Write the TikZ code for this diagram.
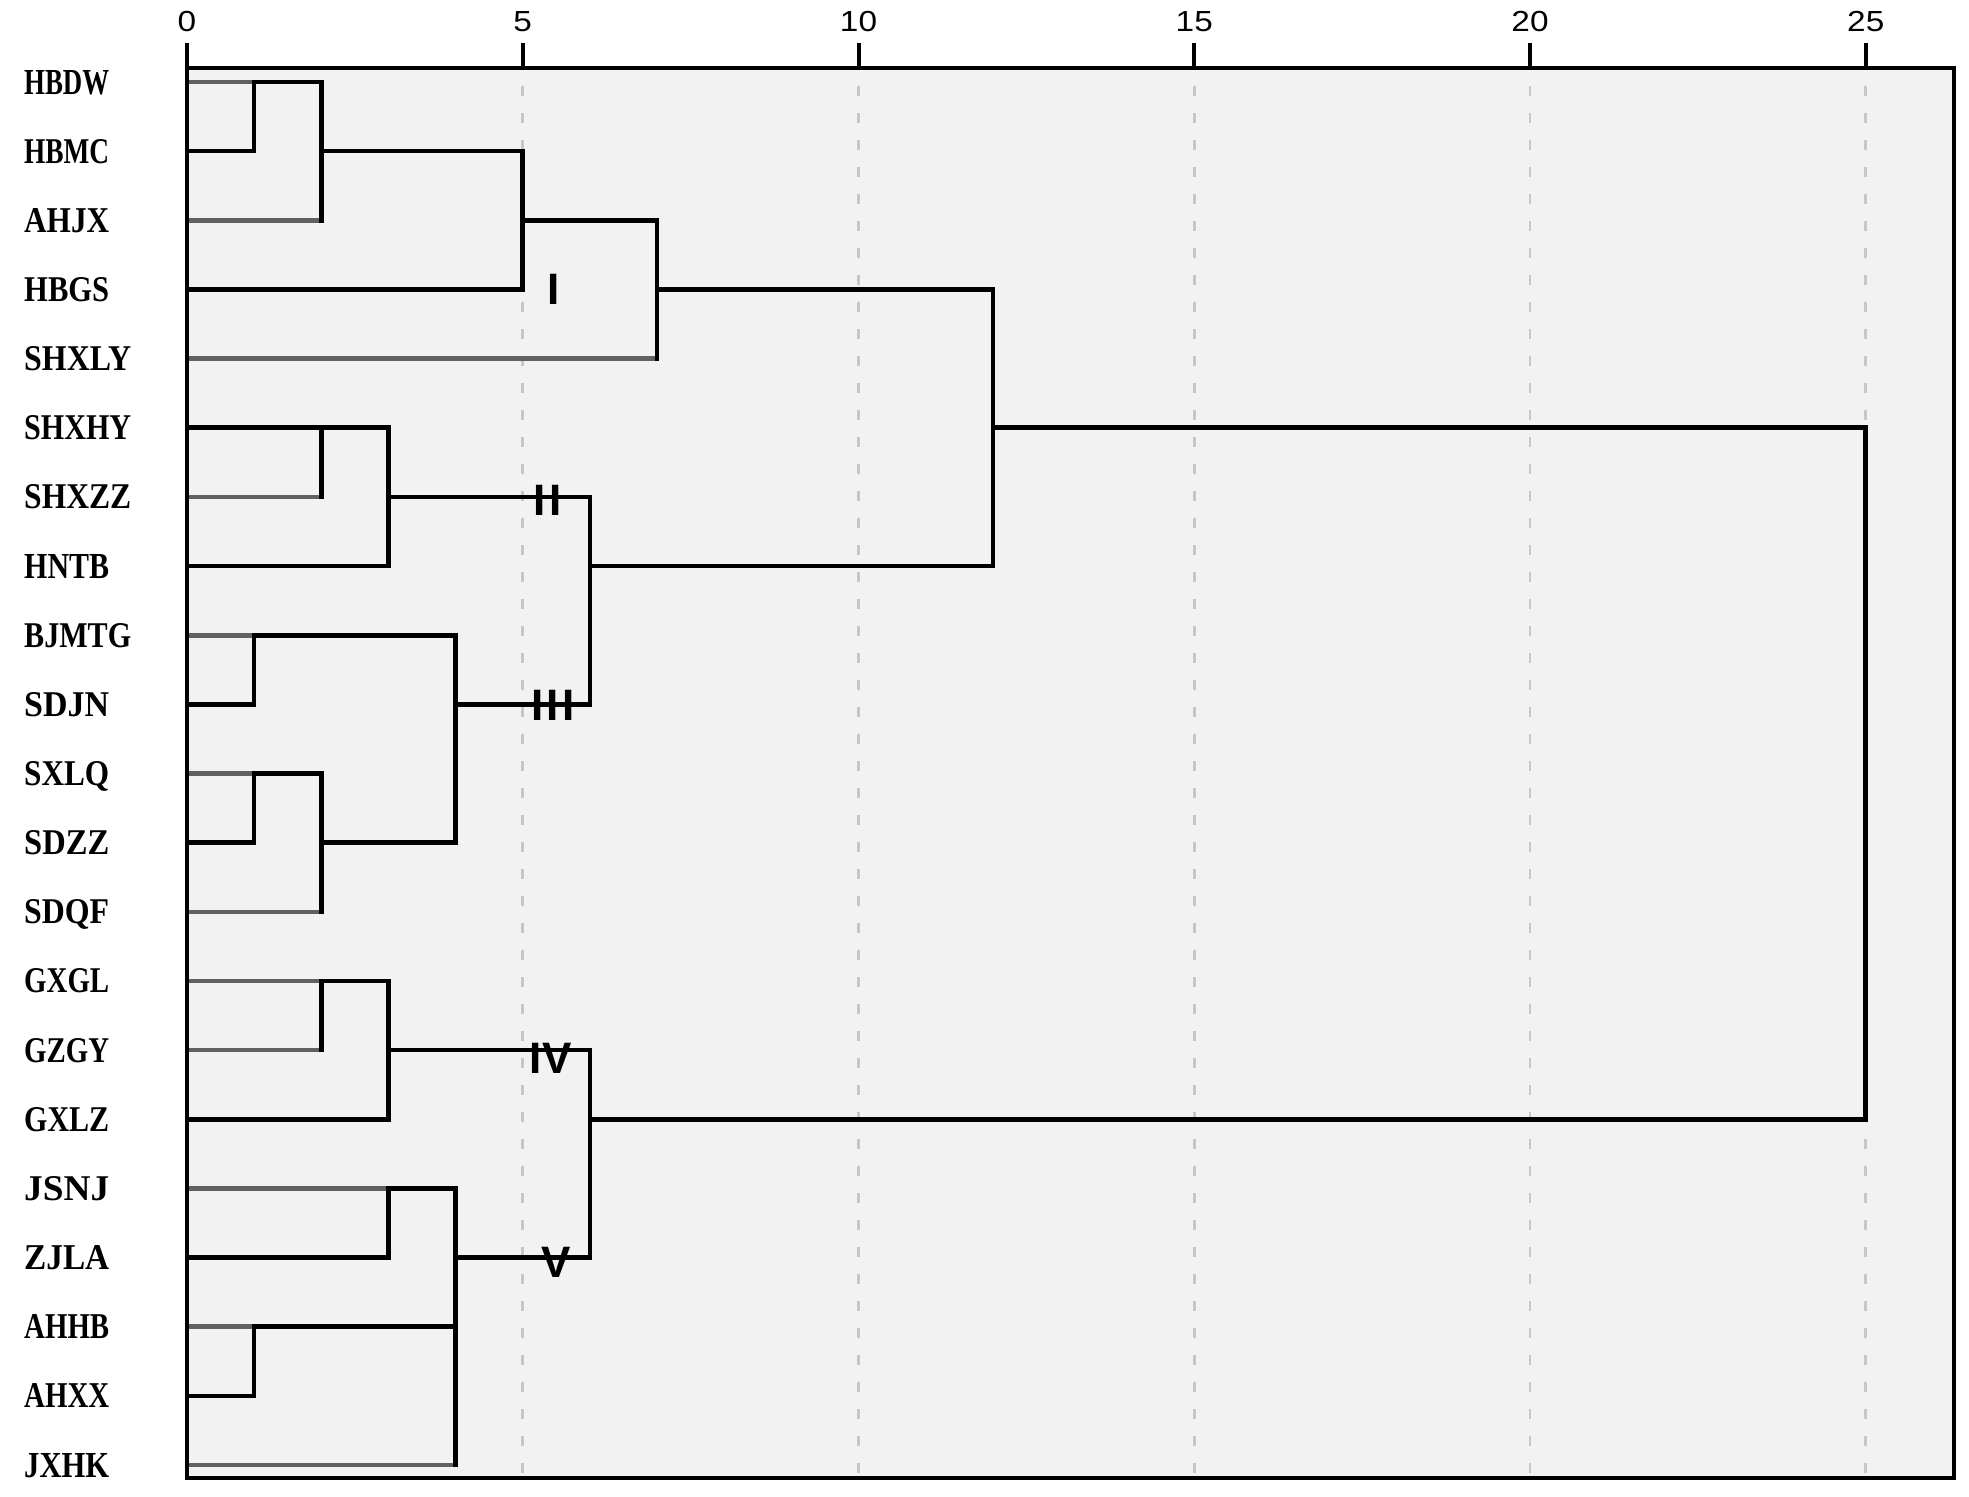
\documentclass[tikz,border=0pt]{standalone}
\usepackage{fontspec}
\setmainfont{Liberation Serif}
\newfontfamily\axisfont{Liberation Sans}
\usepackage{graphicx}
\begin{document}
\begin{tikzpicture}[x=1pt,y=-1pt,
  den/.style={line width=4.6pt,black,line cap=rect,line join=miter},
  leafg/.style={line width=4.6pt,black!62,line cap=butt},
  gridln/.style={line width=2.8pt,black!22,dash pattern=on 10pt off 17pt},
  tickln/.style={line width=4pt,black},
  lab/.style={anchor=base west,inner sep=0pt},
  ax/.style={inner sep=0pt,font=\axisfont\fontsize{29}{32}\selectfont},
  rom/.style={inner sep=0pt,font=\axisfont\bfseries\fontsize{44}{50}\selectfont}]
\useasboundingbox (0,0) rectangle (1969,1496);
\fill[white] (0,0) rectangle (1969,1496);
% plot frame
\fill[black!5] (187,68) rectangle (1954,1478);
% grid lines
\foreach \v in {5,10,...,25}
  \draw[gridln] ({187+67.15*\v},86) -- ({187+67.15*\v},1476);
% axis ticks and labels
\foreach \v in {0,5,...,25}{
  \draw[tickln] ({187+67.15*\v},43) -- ({187+67.15*\v},68);
  \node[ax] (t\v) at ({187+67.15*\v},22) {\scalebox{1.15}[1]{\v}};
}
% leaf labels
\foreach \i/\n/\w in {1/HBDW/85,2/HBMC/85,3/AHJX/85,4/HBGS/85,5/SHXLY/107,6/SHXHY/107,7/SHXZZ/107,8/HNTB/85,9/BJMTG/107,10/SDJN/85,11/SXLQ/85,12/SDZZ/85,13/SDQF/85,14/GXGL/85,15/GZGY/85,16/GXLZ/85,17/JSNJ/85,18/ZJLA/85,19/AHHB/85,20/AHXX/85,21/JXHK/85}
  \node[lab] (l\i) at (24,{94+69.15*(\i-1)}) {\resizebox{\w pt}{24pt}{\bfseries\n}};
% dendrogram
\begin{scope}[shift={(187,12.85)},x=67.15pt,y=-69.15pt]
  % grey leaf segments
  \draw[leafg] (0,1) -- (1,1);
  \draw[leafg] (0,3) -- (2,3);
  \draw[leafg] (0,5) -- (7,5);
  \draw[leafg] (0,7) -- (2,7);
  \draw[leafg] (0,9) -- (1,9);
  \draw[leafg] (0,11) -- (1,11);
  \draw[leafg] (0,13) -- (2,13);
  \draw[leafg] (0,14) -- (2,14);
  \draw[leafg] (0,15) -- (2,15);
  \draw[leafg] (0,17) -- (3,17);
  \draw[leafg] (0,19) -- (1,19);
  \draw[leafg] (0,21) -- (4,21);
  % cluster I
  \draw[den] (0,2) -| (1,1) -- (2,1) -- (2,3);
  \draw[den] (2,2) -| (5,4) -- (0,4);
  \draw[den] (5,3) -- (7,3) -- (7,5);
  \draw[den] (7,4) -- (12,4) -- (12,8) -- (6,8);
  % cluster II
  \draw[den] (0,6) -| (3,8) -- (0,8);
  \draw[den] (2,6) -- (2,7);
  \draw[den] (3,7) -- (6,7) -- (6,10) -- (4,10);
  % cluster III
  \draw[den] (4,9) -- (1,9) -- (1,10) -- (0,10);
  \draw[den] (0,12) -| (1,11) -- (2,11) -- (2,13);
  \draw[den] (2,12) -| (4,9);
  % top joins
  \draw[den] (12,6) -- (25,6) -- (25,16) -- (6,16);
  % cluster IV
  \draw[den] (2,15) -- (2,14) -- (3,14) -- (3,16) -- (0,16);
  \draw[den] (3,15) -- (6,15) -- (6,18) -- (4,18);
  % cluster V
  \draw[den] (0,18) -| (3,17) -- (4,17) -- (4,21);
  \draw[den] (4,19) -- (1,19) -- (1,20) -- (0,20);
\end{scope}
% frame border
\draw[line width=4pt,black] (187,68) rectangle (1954,1478);
% cluster numerals
\node[rom] (n1) at (554,289) {I};
\node[rom] (n2) at (548,500) {I\kern4pt I};
\node[rom] (n3) at (553,705) {I\kern3pt I\kern3pt I};
\node[rom] (n4) at (551,1058) {I\kern1pt V};
\node[rom] (n5) at (556,1262) {V};
\end{tikzpicture}
\end{document}
